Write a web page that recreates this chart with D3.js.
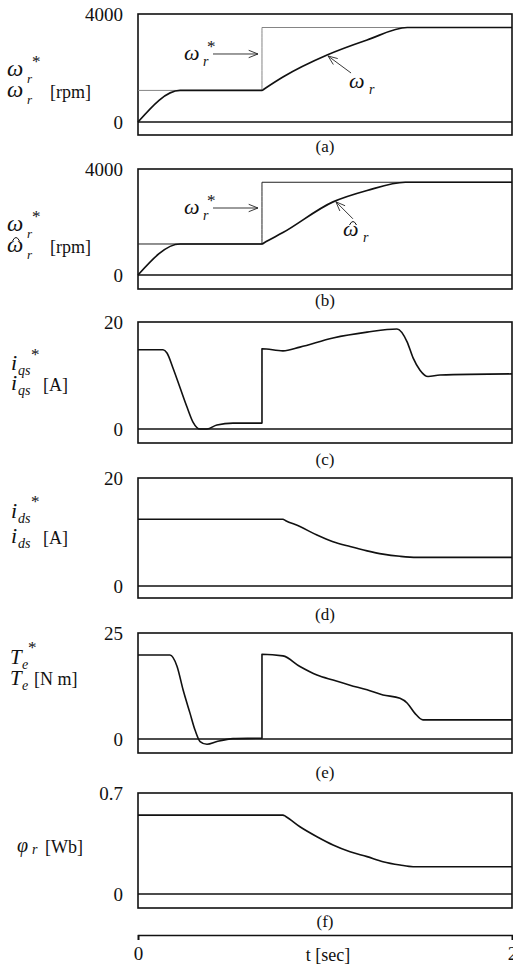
<!DOCTYPE html>
<html>
<head>
<meta charset="utf-8">
<script src="https://cdn.jsdelivr.net/npm/d3@7/dist/d3.min.js"></script>
<style>
  body { margin: 0; background: #fff; }
  svg text { font-family: "Liberation Serif", "DejaVu Serif", serif; fill: #111; }
</style>
</head>
<body>
<svg id="chart" width="513" height="965"></svg>
<script>
// time axis (seconds)
const T_RANGE = [0, 2];
const T_TICKS = [0, 2];

const speedCmdA = [[0, 1170], [0.663, 1170], [0.663, 3500], [2, 3500]];
const speedA = [[0, 0], [0.225, 1170], [0.663, 1170], [0.675, 1225], [0.775, 1667], [1.011, 2481], [1.225, 3037], [1.44, 3500], [2, 3500]];

// (b) speed command and estimated speed [rpm]
const speedCmdB = [[0, 1170], [0.663, 1170], [0.663, 3500], [2, 3500]];
const speedEstB = [[0, 0], [0.225, 1170], [0.663, 1170], [0.675, 1220], [0.775, 1600], [1.043, 2760], [1.225, 3190], [1.43, 3500], [2, 3500]];

// (c) q-axis current [A]
const iqs = [[0, 14.8], [0.134, 14.8], [0.155, 14.2], [0.187, 11.4], [0.225, 7.7], [0.262, 4.1], [0.294, 1.3],
  [0.332, 0], [0.369, 0], [0.422, 0.75], [0.508, 1.1], [0.663, 1.1], [0.663, 15], [0.775, 14.6], [0.866, 15.3],
  [1.043, 17.0], [1.225, 18.1], [1.385, 18.7], [1.439, 16.3], [1.471, 13.3], [1.508, 11.0], [1.551, 9.8],
  [1.615, 10.1], [2, 10.3]];

// (d) d-axis current [A]
const ids = [[0, 12.35], [0.775, 12.35], [0.79, 12.1], [0.866, 11.0], [0.957, 9.44], [1.043, 8.2], [1.134, 7.3],
  [1.225, 6.5], [1.31, 5.9], [1.401, 5.5], [1.49, 5.3], [2, 5.3]];

// (e) torque [N m]
const torque = [[0, 19.8], [0.171, 19.8], [0.209, 17.1], [0.241, 11.6], [0.278, 6.1], [0.305, 2.1], [0.332, -0.6],
  [0.369, -1.25], [0.422, -0.6], [0.508, 0.1], [0.663, 0.2], [0.663, 20], [0.775, 19.6], [0.866, 17.1],
  [0.957, 15.1], [1.043, 13.9], [1.134, 12.7], [1.225, 11.6], [1.31, 10.4], [1.401, 9.6], [1.439, 8.5],
  [1.48, 6.1], [1.524, 4.5], [2, 4.5]];

// (f) rotor flux [Wb]
const flux = [[0, 0.547], [0.775, 0.547], [0.79, 0.537], [0.866, 0.466], [0.957, 0.397], [1.043, 0.34],
  [1.134, 0.293], [1.225, 0.259], [1.31, 0.224], [1.401, 0.201], [1.471, 0.189], [2, 0.189]];

const Y_MAX = [4000, 4000, 20, 20, 25, 0.7];
const CAPTIONS = ['(a)', '(b)', '(c)', '(d)', '(e)', '(f)'];

const svg = d3.select('#chart');
const x = d3.scaleLinear().domain(T_RANGE).range([138, 512]);

// panel boxes: top, zero line, bottom, caption baseline
const layout = [
  { top: 14, zero: 122, bottom: 135, cap: 152 },
  { top: 169, zero: 275, bottom: 289, cap: 306 },
  { top: 322, zero: 429, bottom: 443, cap: 465 },
  { top: 478, zero: 586, bottom: 598, cap: 620 },
  { top: 633, zero: 739, bottom: 753, cap: 778 },
  { top: 793, zero: 894, bottom: 908, cap: 927 }
];

function txt(str, px, py, size, italic, anchor) {
  return svg.append('text')
    .attr('x', px).attr('y', py)
    .attr('font-size', size)
    .attr('font-style', italic ? 'italic' : 'normal')
    .attr('text-anchor', anchor || 'start')
    .text(str);
}

// little circumflex drawn over a symbol
function hat(cx, cy) {
  svg.append('path')
    .attr('d', `M${cx - 3.5},${cy + 3}Q${cx},${cy - 4} ${cx + 3.5},${cy + 3}`)
    .attr('fill', 'none').attr('stroke', '#111').attr('stroke-width', 1);
}

function arrow(x1, y1, x2, y2) {
  const a = Math.atan2(y2 - y1, x2 - x1);
  const len = 10, spread = 0.38;
  const g = svg.append('g').attr('stroke', '#222').attr('stroke-width', 0.9).attr('fill', 'none');
  g.append('line').attr('x1', x1).attr('y1', y1).attr('x2', x2).attr('y2', y2);
  g.append('path').attr('d', `M${x2 - len * Math.cos(a - spread)},${y2 - len * Math.sin(a - spread)}L${x2},${y2}L${x2 - len * Math.cos(a + spread)},${y2 - len * Math.sin(a + spread)}`);
}

const series = [
  [{ d: speedCmdA, w: 0.9, c: '#777' }, { d: speedA, w: 1.7, c: '#111' }],
  [{ d: speedCmdB, w: 1, c: '#222' }, { d: speedEstB, w: 1.7, c: '#111' }],
  [{ d: iqs, w: 1.6, c: '#111' }],
  [{ d: ids, w: 1.6, c: '#111' }],
  [{ d: torque, w: 1.6, c: '#111' }],
  [{ d: flux, w: 1.6, c: '#111' }]
];

const scales = layout.map((p, i) => {
  const y = d3.scaleLinear().domain([0, Y_MAX[i]]).range([p.zero, p.top]);

  svg.append('rect')
    .attr('x', x(T_RANGE[0])).attr('y', p.top)
    .attr('width', x(T_RANGE[1]) - x(T_RANGE[0])).attr('height', p.bottom - p.top)
    .attr('fill', 'none').attr('stroke', '#111').attr('stroke-width', 1.6);

  svg.append('line')
    .attr('x1', x(T_RANGE[0])).attr('x2', x(T_RANGE[1]))
    .attr('y1', y(0)).attr('y2', y(0))
    .attr('stroke', '#111').attr('stroke-width', 1.6);

  const ax = svg.append('g')
    .attr('transform', `translate(${x(T_RANGE[0])},0)`)
    .call(d3.axisLeft(y).tickValues([0, Y_MAX[i]]).tickSize(0).tickPadding(15).tickFormat(d => String(d)));
  ax.select('.domain').remove();
  ax.selectAll('text').attr('font-size', 19).attr('font-family', '"Liberation Serif", serif').attr('fill', '#111');

  const line = d3.line().x(d => x(d[0])).y(d => y(d[1])).curve(d3.curveMonotoneX);
  series[i].forEach(s => {
    svg.append('path').attr('d', line(s.d))
      .attr('fill', 'none').attr('stroke', s.c).attr('stroke-width', s.w)
      .attr('stroke-linejoin', 'round');
  });

  txt(CAPTIONS[i], (x(T_RANGE[0]) + x(T_RANGE[1])) / 2, p.cap, 17, false, 'middle');
  return y;
});

// left-hand axis labels
txt('\u03c9', 7, 76, 23, true); txt('r', 27, 83, 13, true); txt('*', 32, 67, 17);
txt('\u03c9', 7, 97, 23, true); txt('r', 27, 104, 13, true); txt('[rpm]', 50, 98, 18);

txt('\u03c9', 7, 231, 23, true); txt('r', 27, 238, 13, true); txt('*', 32, 222, 17);
txt('\u03c9', 7, 252, 23, true); hat(16, 238); txt('r', 27, 259, 13, true); txt('[rpm]', 50, 253, 18);

txt('i', 11, 370, 22, true); txt('qs', 18, 375, 14, true); txt('*', 31, 360, 17);
txt('i', 11, 390, 22, true); txt('qs', 18, 395, 14, true); txt('[A]', 43, 391, 18);

txt('i', 11, 518, 22, true); txt('ds', 18, 523, 14, true); txt('*', 31, 507, 17);
txt('i', 11, 543, 22, true); txt('ds', 18, 548, 14, true); txt('[A]', 43, 544, 18);

txt('T', 10, 664, 21, true); txt('e', 22, 669, 14, true); txt('*', 28, 653, 17);
txt('T', 10, 685, 21, true); txt('e', 22, 690, 14, true); txt('[N m]', 34, 685, 18);

txt('\u03c6', 17, 852, 20, true); txt('r', 32, 854, 14, true); txt('[Wb]', 45, 853, 18);

// annotations in (a)
const ya = scales[0];
arrow(213, ya(2519), x(0.663) - 4, ya(2519));
txt('\u03c9', 184, 60, 22, true); txt('r', 203, 66, 14, true); txt('*', 207, 52, 17);
const tipA = [x(1.011), ya(2481)];
arrow(tipA[0] + 24, tipA[1] + 18, tipA[0] + 1, tipA[1] + 1);
txt('\u03c9', 349, 88, 22, true); txt('r', 369, 94, 14, true);

// annotations in (b)
const yb = scales[1];
arrow(213, yb(2528), x(0.663) - 4, yb(2528));
txt('\u03c9', 184, 214, 22, true); txt('r', 203, 220, 14, true); txt('*', 207, 206, 17);
const tipB = [x(1.053), yb(2800)];
arrow(tipB[0] + 18, tipB[1] + 18, tipB[0] + 1, tipB[1] + 1);
txt('\u03c9', 343, 236, 22, true); hat(353, 222); txt('r', 363, 242, 14, true);

// shared time axis
const tAxis = svg.append('g')
  .attr('transform', 'translate(0,935)')
  .call(d3.axisBottom(x).tickValues(T_TICKS).tickSize(5).tickPadding(7).tickFormat(d => String(d)));
tAxis.select('.domain').attr('stroke', '#111').attr('stroke-width', 1.6);
tAxis.selectAll('line').attr('stroke', '#111').attr('stroke-width', 1.6);
tAxis.selectAll('text').attr('font-size', 19).attr('font-family', '"Liberation Serif", serif').attr('fill', '#111');
txt('t [sec]', 328, 961, 18, false, 'middle');
</script>
</body>
</html>
